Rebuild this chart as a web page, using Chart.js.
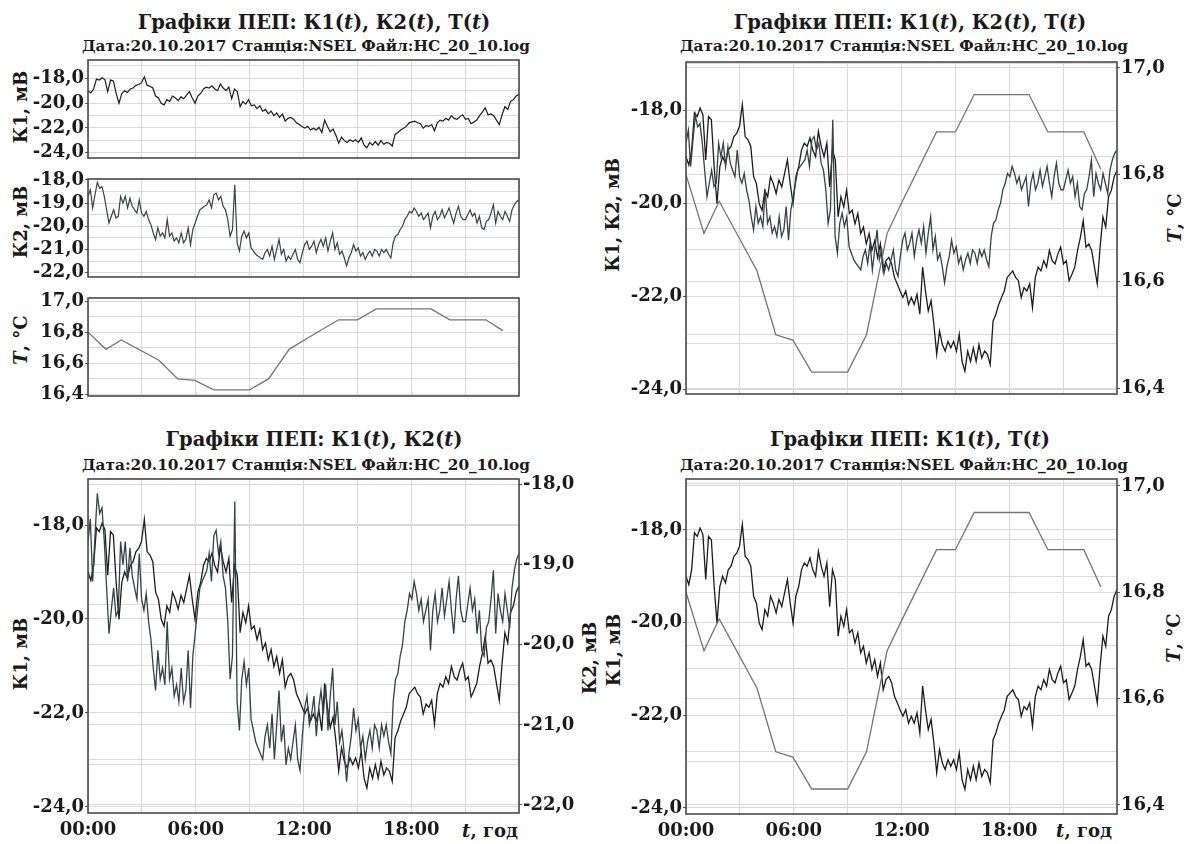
<!DOCTYPE html>
<html><head><meta charset="utf-8">
<script src="https://cdn.jsdelivr.net/npm/chart.js@4"></script>
<style>
body{margin:0;background:#fff;width:1192px;height:844px;overflow:hidden;position:relative;font-family:'DejaVu Serif',serif;font-weight:bold;color:#1a1a1a}
.t{position:absolute;white-space:nowrap;transform:translate(-50%,-50%);line-height:1}
.title{font-size:19.5px}
.sub{font-size:15.3px}
.ax{position:absolute;white-space:nowrap;font-size:18px;line-height:1;transform:translate(-50%,-50%) rotate(-90deg)}
.xt{position:absolute;white-space:nowrap;font-size:18px;line-height:1;transform:translate(-100%,-50%)}
canvas{position:absolute}
</style></head><body>

<div class="t title" style="left:314px;top:23px">Графіки ПЕП: К1(<i>t</i>), К2(<i>t</i>), Т(<i>t</i>)</div>
<div class="t sub" style="left:306px;top:47px">Дата:20.10.2017 Станція:NSEL Файл:HC_20_10.log</div>
<div class="t title" style="left:910px;top:23px">Графіки ПЕП: К1(<i>t</i>), К2(<i>t</i>), Т(<i>t</i>)</div>
<div class="t sub" style="left:904px;top:47px">Дата:20.10.2017 Станція:NSEL Файл:HC_20_10.log</div>
<div class="t title" style="left:314px;top:440px">Графіки ПЕП: К1(<i>t</i>), К2(<i>t</i>)</div>
<div class="t sub" style="left:306px;top:466px">Дата:20.10.2017 Станція:NSEL Файл:HC_20_10.log</div>
<div class="t title" style="left:910px;top:440px">Графіки ПЕП: К1(<i>t</i>), Т(<i>t</i>)</div>
<div class="t sub" style="left:904px;top:466px">Дата:20.10.2017 Станція:NSEL Файл:HC_20_10.log</div>

<div class="ax" style="left:21px;top:107px">К1, мВ</div>
<div class="ax" style="left:21px;top:222px">К2, мВ</div>
<div class="ax" style="left:21px;top:340px"><i>T</i>, °C</div>
<div class="ax" style="left:613px;top:215px">К1, К2, мВ</div>
<div class="ax" style="left:1175px;top:218px"><i>T</i>, °C</div>
<div class="ax" style="left:21px;top:654px">К1, мВ</div>
<div class="ax" style="left:590px;top:658px">К2, мВ</div>
<div class="ax" style="left:614px;top:650px">К1, мВ</div>
<div class="ax" style="left:1174px;top:638px"><i>T</i>, °C</div>
<div class="xt" style="left:518px;top:831px"><i>t</i>, год</div>
<div class="xt" style="left:1112px;top:831px"><i>t</i>, год</div>

<script>
// ---------------- DATA ----------------
// K1, mV (regular samples over 00:00..24:00)
const K1_VALUES = [
-19.00,-19.18,-18.86,-18.06,-18.14,-17.96,-18.10,-19.07,-18.14,-18.21,
-19.22,-20.01,-19.22,-19.00,-19.14,-18.86,-18.78,-18.57,-18.50,-18.35,
-17.88,-18.57,-18.64,-18.78,-19.43,-19.58,-20.01,-20.15,-19.72,-19.86,
-19.43,-19.58,-19.79,-19.50,-19.65,-19.36,-19.07,-19.58,-20.01,-19.43,
-19.22,-18.86,-18.71,-18.78,-18.60,-18.86,-19.00,-18.46,-18.78,-19.00,
-18.71,-19.65,-18.86,-19.07,-20.29,-19.86,-20.08,-19.72,-20.22,-20.15,
-20.44,-20.22,-20.65,-20.51,-20.87,-20.65,-21.01,-20.80,-21.16,-20.87,
-21.45,-21.23,-21.16,-21.30,-21.59,-21.73,-21.88,-22.02,-21.88,-22.17,
-22.02,-22.17,-21.95,-22.38,-21.37,-21.88,-22.31,-22.09,-22.60,-23.24,
-22.74,-23.03,-23.17,-22.96,-23.10,-22.96,-23.17,-22.81,-23.39,-23.60,
-23.17,-23.39,-23.10,-23.39,-23.03,-23.32,-23.17,-23.24,-23.46,-22.53,
-22.38,-22.17,-22.02,-21.88,-21.59,-21.52,-21.45,-21.59,-21.66,-22.02,
-21.81,-21.88,-21.73,-22.24,-21.59,-21.37,-21.45,-21.23,-21.37,-21.01,
-21.23,-21.30,-21.09,-20.94,-21.30,-21.23,-21.66,-21.52,-21.37,-21.01,
-20.73,-20.37,-20.94,-20.87,-21.01,-21.37,-21.73,-20.94,-20.29,-20.51,
-19.86,-19.72,-19.43,-19.29
];
// K2, mV (regular samples over 00:00..24:00)
const K2_VALUES = [
-18.71,-18.43,-19.21,-18.64,-18.11,-18.36,-18.29,-18.71,-19.29,-19.86,
-19.57,-19.29,-19.64,-19.57,-18.71,-19.00,-18.71,-19.21,-18.79,-19.14,
-19.29,-19.43,-18.86,-19.43,-19.57,-19.36,-19.71,-19.93,-20.29,-20.57,
-20.07,-20.43,-20.29,-20.50,-19.71,-20.43,-20.29,-20.64,-20.50,-20.71,
-20.29,-20.71,-20.57,-20.07,-20.79,-20.14,-19.86,-19.57,-19.29,-19.21,
-19.14,-19.07,-18.86,-19.21,-18.64,-18.57,-18.86,-18.71,-19.14,-19.29,
-19.71,-20.43,-20.14,-18.21,-20.71,-21.07,-20.43,-20.21,-20.50,-20.29,
-20.93,-21.07,-21.21,-21.29,-21.36,-21.43,-21.14,-21.00,-21.29,-20.86,
-21.43,-21.00,-20.57,-21.21,-21.00,-21.50,-21.29,-21.43,-21.21,-21.00,
-21.43,-21.57,-21.14,-20.79,-20.64,-21.00,-20.86,-20.64,-21.14,-20.79,
-20.57,-20.86,-20.50,-21.07,-20.64,-20.29,-21.00,-20.71,-21.21,-21.07,
-21.36,-21.71,-21.36,-21.14,-20.79,-21.07,-20.93,-21.29,-21.14,-21.43,
-21.21,-21.07,-21.29,-21.00,-21.07,-21.29,-21.00,-21.14,-21.00,-21.21,
-21.36,-20.71,-20.43,-20.36,-20.14,-20.00,-19.71,-19.57,-19.36,-19.43,
-19.21,-19.36,-19.57,-19.43,-19.71,-19.57,-19.43,-20.07,-19.57,-19.36,
-19.71,-19.57,-19.29,-19.64,-19.43,-19.21,-19.57,-19.86,-19.43,-19.14,
-19.57,-19.71,-19.71,-19.50,-19.29,-19.57,-19.43,-19.86,-19.57,-20.07,
-20.14,-19.79,-19.71,-19.43,-19.07,-19.86,-19.36,-19.57,-19.71,-19.36,
-19.57,-19.79,-19.29,-19.07,-18.93,-18.86
];
// Temperature, °C
const T_HOURS  = [0, 1.0, 1.85, 3.95, 5.0, 5.95, 7.0, 9.0, 10.05, 11.2, 12.05, 13.95, 15.0, 16.05, 19.1, 20.15, 22.15, 23.1];
const T_VALUES = [16.80, 16.69, 16.75, 16.62, 16.50, 16.49, 16.43, 16.43, 16.50, 16.69, 16.75, 16.88, 16.88, 16.95, 16.95, 16.88, 16.88, 16.81];

// Ticks
const DAY_HOURS = 24;
const X_TICK_HOURS  = [0, 3, 6, 9, 12, 15, 18, 21, 24];
const X_TICK_LABELS = ['00:00', '', '06:00', '', '12:00', '', '18:00', '', ''];
const K1_GRID   = [-24, -23, -22, -21, -20, -19, -18, -17];
const K1_LABELS = [-24, -22, -20, -18];
const K2_GRID   = [-22, -21.5, -21, -20.5, -20, -19.5, -19, -18.5, -18];
const K2_LABELS = [-22, -21, -20, -19, -18];
const T_GRID    = [16.4, 16.5, 16.6, 16.7, 16.8, 16.9, 17.0];
const T_LABELS  = [16.4, 16.6, 16.8, 17.0];

// ---------------- DRAWING ----------------
const PAD_L = 82, PAD_R = 76;
const GRID = '#d9d9d9';
const TXT = '#1a1a1a';
const TICK_FONT = {family: "'DejaVu Serif', serif", size: 18, weight: 'bold'};
const C_K1 = '#1c1c1c', C_K2 = '#364242', C_T = '#747474';

const fmt = v => v.toFixed(1).replace('.', ',');
const has = (arr, v) => arr.some(l => Math.abs(l - v) < 1e-6);
const sampled = vals => vals.map((v, i) => ({x: i * DAY_HOURS / (vals.length - 1), y: v}));
const K1_DATA = sampled(K1_VALUES);
const K2_DATA = sampled(K2_VALUES);
const T_DATA = T_HOURS.map((h, i) => ({x: h, y: T_VALUES[i]}));

const framePlugin = {
  id: 'frame',
  afterDraw(ch) {
    const a = ch.chartArea, g = ch.ctx;
    g.save(); g.strokeStyle = '#4a4a4a'; g.lineWidth = 1.6;
    g.strokeRect(a.left, a.top, a.right - a.left, a.bottom - a.top);
    g.restore();
  }
};

function makeY(ax, pos) {
  return {
    type: 'linear', position: pos, min: ax.min, max: ax.max,
    afterBuildTicks: a => { a.ticks = ax.grid.map(v => ({value: v})); },
    afterFit: s => { s.width = pos === 'left' ? PAD_L : PAD_R; },
    grid: {
      color: GRID, lineWidth: 1, drawOnChartArea: true, tickLength: 3,
      tickColor: ctx => (ctx.tick && has(ax.labels, ctx.tick.value)) ? '#555' : 'rgba(0,0,0,0)'
    },
    border: {display: false},
    ticks: {autoSkip: false, padding: 1, font: TICK_FONT, color: TXT,
      callback: v => has(ax.labels, v) ? fmt(v) : ''}
  };
}

function panel(c) {
  const cv = document.createElement('canvas');
  const W = c.w + PAD_L + PAD_R, H = c.h + c.pt + c.pb;
  cv.width = W; cv.height = H;
  cv.style.left = (c.x - PAD_L) + 'px'; cv.style.top = (c.y - c.pt) + 'px';
  cv.style.width = W + 'px'; cv.style.height = H + 'px';
  document.body.appendChild(cv);
  const scales = {
    x: {
      type: 'linear', min: 0, max: DAY_HOURS,
      afterBuildTicks: a => { a.ticks = X_TICK_HOURS.map(v => ({value: v})); },
      afterFit: s => { s.height = c.pb; },
      grid: {color: GRID, lineWidth: 1, drawTicks: false},
      border: {display: false},
      ticks: {display: !!c.xLabels, autoSkip: false, maxRotation: 0, padding: 7, font: TICK_FONT, color: TXT,
        callback: v => { const i = X_TICK_HOURS.indexOf(v); return i >= 0 ? X_TICK_LABELS[i] : ''; }}
    },
    y: makeY(c.left, 'left')
  };
  if (c.right) scales.y2 = makeY(c.right, 'right');
  new Chart(cv, {
    type: 'line',
    data: {datasets: c.datasets.map(d => ({
      data: d.data, yAxisID: d.axis, borderColor: d.color, borderWidth: d.width || 1.3,
      pointRadius: 0, tension: 0, fill: false
    }))},
    options: {
      responsive: false, animation: false, events: [],
      layout: {padding: {top: c.pt, right: c.right ? 0 : PAD_R, left: 0, bottom: 0}},
      plugins: {legend: {display: false}, tooltip: {enabled: false}},
      scales
    },
    plugins: [framePlugin]
  });
}

// Top-left: three stacked panels
panel({x: 88, y: 60, w: 431, h: 98, pt: 14, pb: 14,
  left: {min: -24.43, max: -16.52, grid: K1_GRID, labels: K1_LABELS},
  datasets: [{data: K1_DATA, axis: 'y', color: C_K1, width: 1.2}]});
panel({x: 88, y: 179, w: 431, h: 98, pt: 14, pb: 14,
  left: {min: -22.19, max: -17.96, grid: K2_GRID, labels: K2_LABELS},
  datasets: [{data: K2_DATA, axis: 'y', color: C_K2, width: 1.2}]});
panel({x: 88, y: 298, w: 431, h: 98, pt: 14, pb: 14,
  left: {min: 16.39, max: 17.02, grid: T_GRID, labels: T_LABELS},
  datasets: [{data: T_DATA, axis: 'y', color: C_T, width: 1.3}]});

// Top-right: K1, K2, T
panel({x: 686, y: 62, w: 431, h: 332, pt: 14, pb: 14,
  left: {min: -24.09, max: -16.97, grid: K1_GRID, labels: K1_LABELS},
  right: {min: 16.389, max: 17.011, grid: T_GRID, labels: T_LABELS},
  datasets: [
    {data: T_DATA, axis: 'y2', color: C_T, width: 1.3},
    {data: K2_DATA, axis: 'y', color: C_K2},
    {data: K1_DATA, axis: 'y', color: C_K1}
  ]});

// Bottom-left: K1 + K2
panel({x: 88, y: 479, w: 431, h: 334, pt: 14, pb: 31, xLabels: true,
  left: {min: -24.13, max: -17.02, grid: K1_GRID, labels: K1_LABELS},
  right: {min: -22.1, max: -17.93, grid: K2_GRID, labels: K2_LABELS},
  datasets: [
    {data: K2_DATA, axis: 'y2', color: C_K2},
    {data: K1_DATA, axis: 'y', color: C_K1}
  ]});

// Bottom-right: K1 + T
panel({x: 686, y: 479, w: 431, h: 335, pt: 14, pb: 30, xLabels: true,
  left: {min: -24.13, max: -16.9, grid: K1_GRID, labels: K1_LABELS},
  right: {min: 16.383, max: 17.013, grid: T_GRID, labels: T_LABELS},
  datasets: [
    {data: T_DATA, axis: 'y2', color: C_T, width: 1.3},
    {data: K1_DATA, axis: 'y', color: C_K1}
  ]});
</script>
</body></html>
